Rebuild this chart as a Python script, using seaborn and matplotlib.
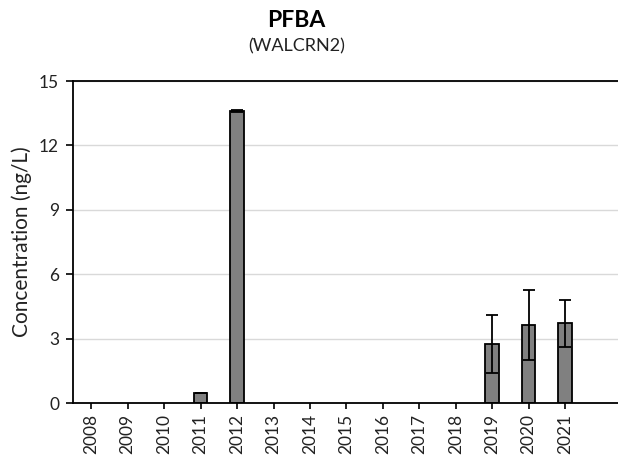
import numpy as np
import pandas as pd
import seaborn as sns
import matplotlib.pyplot as plt

# chart data
years = ["2008", "2009", "2010", "2011", "2012", "2013", "2014",
         "2015", "2016", "2017", "2018", "2019", "2020", "2021"]
conc = [np.nan, np.nan, np.nan, 0.45, 13.6, np.nan, np.nan,
        np.nan, np.nan, np.nan, np.nan, 2.75, 3.65, 3.72]
err = [np.nan, np.nan, np.nan, 0.0, 0.03, np.nan, np.nan,
       np.nan, np.nan, np.nan, np.nan, 1.33, 1.63, 1.1]
y_ticks = [0, 3, 6, 9, 12, 15]

df = pd.DataFrame({"year": years, "conc": conc, "err": err})

sns.set_style("white")
plt.rcParams["font.family"] = ["Lato", "DejaVu Sans"]

fig = plt.figure(figsize=(6.18, 4.62), dpi=100)
ax = fig.add_axes([73 / 618, 1 - 403 / 462, 1 - 73 / 618, (403 - 81) / 462])

sns.barplot(data=df, x="year", y="conc", order=years, color="#808080",
            saturation=1, width=0.37, edgecolor="black", linewidth=1.3,
            errorbar=None, ax=ax)

# error bars on top of the bars
pos = np.arange(len(years))
ax.errorbar(pos, df["conc"], yerr=df["err"], fmt="none", ecolor="black",
            elinewidth=1.3, capsize=4, capthick=1.3, zorder=5)

ax.set_ylim(0, 15)
ax.set_xlim(-0.5, 14.45)
ax.set_yticks(y_ticks)
ax.yaxis.grid(True, color="#d9d9d9", linewidth=1)
ax.set_axisbelow(True)

for s in ["right", "bottom"]:
    ax.spines[s].set_visible(False)
ax.axhline(0, xmin=0, xmax=1, color="black", linewidth=1.3, zorder=6,
           clip_on=False)
for s in ["left", "top"]:
    ax.spines[s].set_linewidth(1.3)
    ax.spines[s].set_color("black")

ax.tick_params(axis="y", direction="out", length=5, width=1.2, labelsize=12.5,
               left=True, pad=5)
ax.tick_params(axis="x", direction="out", length=4, width=1.2, labelsize=12.5,
               bottom=True, rotation=90, pad=4)
ax.tick_params(axis="both", color="black", labelcolor="#222222")

ax.set_xlabel("")
ax.set_ylabel("Concentration (ng/L)", fontsize=15, color="#222222", labelpad=5)

fig.text(0.48, 0.955, "PFBA", ha="center", va="center", fontsize=16.5,
         fontweight="bold", color="black")
fig.text(0.48, 0.90, "(WALCRN2)", ha="center", va="center", fontsize=13,
         color="#222222")

fig.savefig("out.png", dpi=100)
